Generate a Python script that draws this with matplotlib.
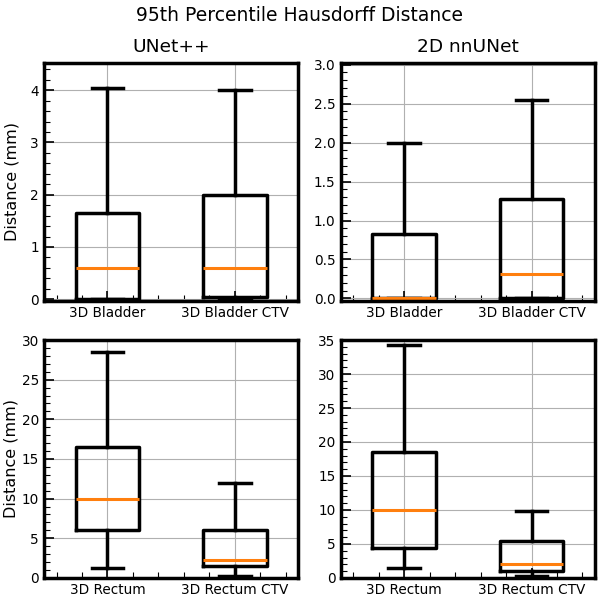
import matplotlib
matplotlib.use('Agg')
import matplotlib.pyplot as plt
from matplotlib.ticker import AutoMinorLocator

# five-number summaries: (whislo, q1, med, q3, whishi)
bladder_labels = ['3D Bladder', '3D Bladder CTV']
rectum_labels = ['3D Rectum', '3D Rectum CTV']

unetpp_bladder = [(0.0, 0.0, 0.6, 1.65, 4.05), (0.0, 0.05, 0.6, 2.0, 4.0)]
nnunet_bladder = [(0.0, 0.0, 0.0, 0.83, 2.0), (0.0, 0.0, 0.31, 1.27, 2.55)]
unetpp_rectum = [(1.2, 6.0, 10.0, 16.5, 28.5), (0.3, 1.5, 2.3, 6.0, 12.0)]
nnunet_rectum = [(1.5, 4.4, 10.0, 18.5, 34.3), (0.3, 1.0, 2.1, 5.4, 9.8)]

model_titles = ['UNet++', '2D nnUNet']


def to_stats(summaries, labels):
    stats = []
    for (lo, q1, med, q3, hi), lab in zip(summaries, labels):
        stats.append(dict(whislo=lo, q1=q1, med=med, q3=q3, whishi=hi,
                          fliers=[], label=lab))
    return stats


def draw(ax, summaries, labels, ylim):
    line = dict(color='black', linewidth=2.5)
    ax.bxp(to_stats(summaries, labels), showfliers=False, widths=0.5,
           boxprops=line, whiskerprops=line, capprops=line,
           medianprops=dict(color='#ff7f0e', linewidth=2.2))
    ax.set_ylim(*ylim)
    ax.set_xlim(0.5, 2.5)
    ax.grid(True, color='#b0b0b0', linewidth=0.8)
    ax.set_axisbelow(True)
    ax.xaxis.set_minor_locator(AutoMinorLocator(5))
    ax.yaxis.set_minor_locator(AutoMinorLocator())
    ax.tick_params(which='both', direction='in', labelsize=9.8)
    ax.tick_params(which='major', length=7, width=1.2)
    ax.tick_params(which='minor', length=4, width=0.8)
    for sp in ax.spines.values():
        sp.set_linewidth(2.5)


fig, axes = plt.subplots(2, 2, figsize=(6.0, 5.97), dpi=100)
fig.subplots_adjust(left=0.073, right=0.992, top=0.8945, bottom=0.032,
                    wspace=0.165, hspace=0.165)

draw(axes[0, 0], unetpp_bladder, bladder_labels, (-0.03, 4.52))
draw(axes[0, 1], nnunet_bladder, bladder_labels, (-0.03, 3.02))
draw(axes[1, 0], unetpp_rectum, rectum_labels, (0, 30))
draw(axes[1, 1], nnunet_rectum, rectum_labels, (0, 35))

axes[0, 0].set_title(model_titles[0], fontsize=13.3, pad=8)
axes[0, 1].set_title(model_titles[1], fontsize=13.3, pad=8)
axes[0, 0].set_ylabel('Distance (mm)', fontsize=11.5, labelpad=8)
axes[1, 0].set_ylabel('Distance (mm)', fontsize=11.5, labelpad=2)
fig.suptitle('95th Percentile Hausdorff Distance', fontsize=13.5, y=0.99)

fig.savefig('out.png', dpi=100)
